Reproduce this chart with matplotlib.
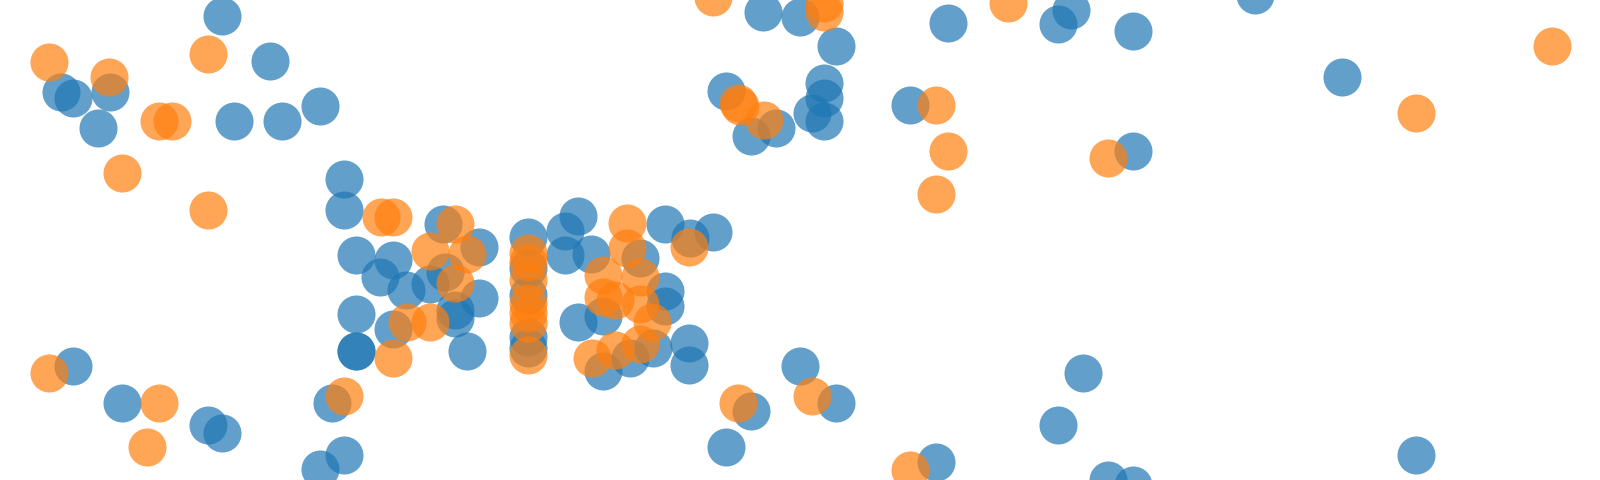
import matplotlib
matplotlib.use("Agg")
import matplotlib.pyplot as plt

# Series A (blue)
blue_x = [222, 270, 61, 73, 110, 98, 234, 282, 320, 344, 344,
          73, 122, 208, 222, 344, 320, 332,
          356, 393, 380, 356, 356, 356, 393, 443, 479, 406, 430, 445, 455, 455, 479, 467,
          528, 528, 528, 528, 528,
          578, 565, 565, 591, 640, 665, 690, 713, 665, 665, 578, 603, 630, 653, 689, 689, 603,
          763, 800, 836, 726, 751, 776, 824, 824, 812, 824, 910, 948, 1058, 1071, 1133, 1133,
          800, 751, 726, 836, 936, 1083, 1058, 1108, 1133,
          1255, 1342, 1416]
blue_y = [16, 61, 92, 98, 92, 128, 121, 121, 106, 179, 210,
          366, 403, 425, 433, 455, 469, 403,
          255, 260, 277, 314, 351, 351, 329, 224, 247, 290, 284, 272, 310, 318, 298, 351,
          237, 268, 295, 337, 348,
          216, 231, 255, 254, 258, 224, 238, 232, 291, 306, 322, 316, 358, 348, 343, 365, 371,
          12, 17, 46, 91, 136, 128, 83, 98, 113, 121, 105, 23, 24, 10, 31, 151,
          366, 411, 447, 403, 462, 373, 425, 480, 485,
          -5, 77, 455]

# Series B (orange)
orange_x = [208, 49, 109, 159, 172, 122, 208, 381, 393,
            49, 159, 147, 344, 393,
            455, 430, 467, 455, 407, 430,
            528, 528, 528, 528, 528, 528, 528,
            627, 627, 689, 603, 640, 603, 615, 640, 652, 592, 615, 640,
            713, 824, 824, 738, 740, 764, 936, 948, 936, 1008, 1108,
            738, 812, 910,
            1416, 1552]
orange_y = [54, 62, 77, 121, 121, 173, 210, 217, 217,
            373, 403, 447, 396, 358,
            224, 251, 254, 283, 322, 322,
            253, 262, 280, 303, 313, 323, 355,
            223, 248, 247, 275, 277, 297, 300, 304, 322, 358, 350, 344,
            -3, 3, 12, 103, 106, 120, 105, 151, 194, 3, 158,
            403, 396, 470,
            113, 46]

fig = plt.figure(figsize=(16, 4.8), dpi=100)
ax = fig.add_axes([0, 0, 1, 1])
ax.scatter(blue_x, blue_y, s=750, color="#1f77b4", alpha=0.7, linewidths=0)
ax.scatter(orange_x, orange_y, s=750, color="#ff7f0e", alpha=0.7, linewidths=0)
ax.set_xlim(0, 1600)
ax.set_ylim(480, 0)
ax.axis("off")
fig.savefig("out.png", dpi=100)
